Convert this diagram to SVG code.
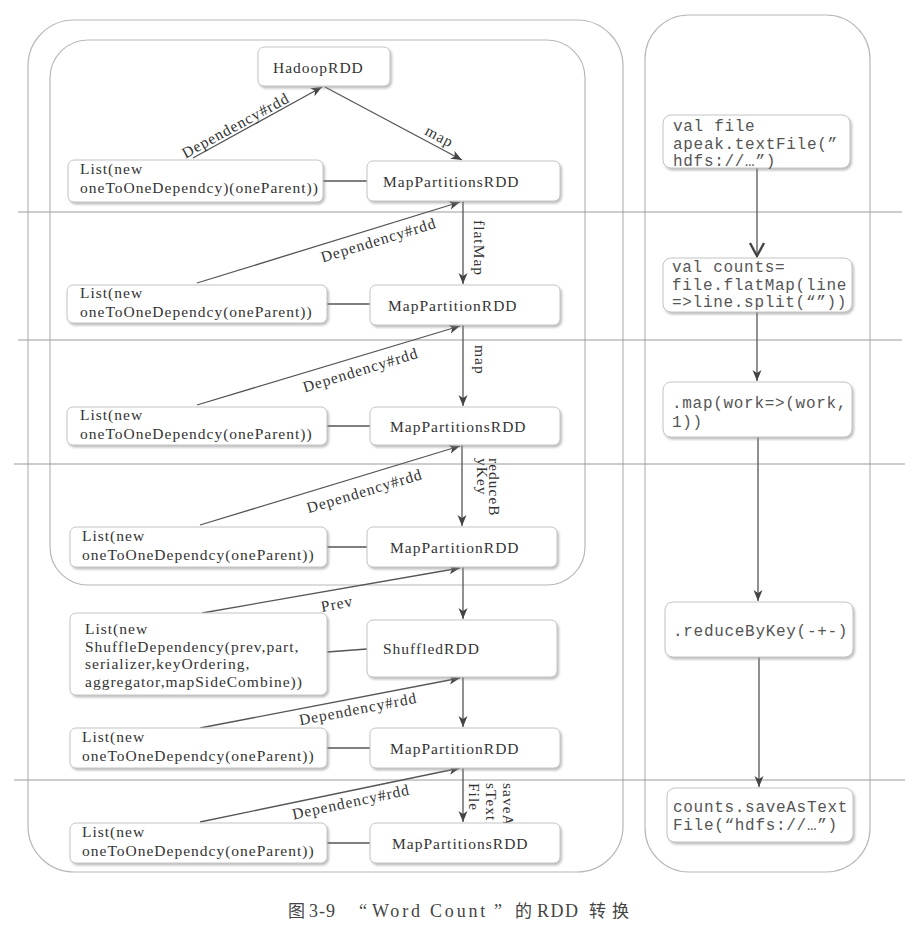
<svg xmlns="http://www.w3.org/2000/svg" width="924" height="938" viewBox="0 0 924 938">
<defs>
<filter id="sh" x="-10%" y="-20%" width="130%" height="150%">
<feDropShadow dx="1.5" dy="2" stdDeviation="1.2" flood-color="#888" flood-opacity="0.55"/>
</filter>
<marker id="ah" markerUnits="userSpaceOnUse" markerWidth="12" markerHeight="10" refX="11" refY="4.5" orient="auto">
<path d="M0,0 L11,4.5 L0,9 L3,4.5 z" fill="#444"/>
</marker>
<marker id="av" markerUnits="userSpaceOnUse" markerWidth="18" markerHeight="18" refX="14" refY="8" orient="auto">
<path d="M1,1 L14,8 L1,15" fill="none" stroke="#444" stroke-width="2.4"/>
</marker>
</defs>
<style>
.cont{fill:none;stroke:#b8b8b8;stroke-width:1.2}
.sep{stroke:#9a9a9a;stroke-width:1}
.box{fill:#fff;stroke:#c4c4c4;stroke-width:1;filter:url(#sh)}
.t{font-family:"Liberation Serif","Times New Roman",serif;font-size:15.5px;letter-spacing:1px;fill:#333}
.m{font-family:"Liberation Mono","Courier New",monospace;font-size:16px;letter-spacing:0.7px;fill:#555}
.ln{stroke:#555;stroke-width:1.3;fill:none}
.ar{stroke:#555;stroke-width:1.3;fill:none;marker-end:url(#ah)}
.capl{font-family:"Liberation Serif","Times New Roman",serif;font-size:18px;fill:#444}
.capc{font-family:"Noto Sans CJK SC",sans-serif;font-size:17px;fill:#444}
</style>
<rect width="924" height="938" fill="#fff"/>

<g id="containers">
<rect class="cont" x="28" y="20" width="595" height="852" rx="46"/>
<rect class="cont" x="50" y="40" width="535" height="545" rx="38"/>
<rect class="cont" x="645" y="15" width="225" height="857" rx="44"/>
</g>

<g id="separators">
<line class="sep" x1="18" y1="212" x2="902" y2="212"/>
<line class="sep" x1="18" y1="340" x2="902" y2="340"/>
<line class="sep" x1="14" y1="464" x2="905" y2="464"/>
<line class="sep" x1="14" y1="780" x2="905" y2="780"/>
</g>

<g id="connectors">
<line class="ar" x1="193" y1="158" x2="322" y2="87"/>
<line class="ar" x1="325" y1="87" x2="462" y2="160"/>
<line class="ln" x1="323" y1="181" x2="367" y2="181"/>
<line class="ar" x1="197" y1="283" x2="460" y2="202"/>
<line class="ar" x1="463" y1="201" x2="463" y2="284"/>
<line class="ln" x1="327" y1="304" x2="370" y2="304"/>
<line class="ar" x1="197" y1="405" x2="460" y2="326"/>
<line class="ar" x1="463" y1="325" x2="463" y2="406"/>
<line class="ln" x1="327" y1="426" x2="370" y2="426"/>
<line class="ar" x1="200" y1="525" x2="460" y2="446"/>
<line class="ar" x1="462" y1="445" x2="462" y2="526"/>
<line class="ln" x1="327" y1="547" x2="367" y2="547"/>
<line class="ar" x1="202" y1="613" x2="460" y2="568"/>
<line class="ar" x1="463" y1="567" x2="463" y2="619"/>
<line class="ln" x1="327" y1="652" x2="367" y2="649"/>
<line class="ar" x1="200" y1="728" x2="460" y2="678"/>
<line class="ar" x1="463" y1="677" x2="463" y2="727"/>
<line class="ln" x1="327" y1="748" x2="370" y2="748"/>
<line class="ar" x1="200" y1="822" x2="460" y2="768"/>
<line class="ar" x1="463" y1="768" x2="463" y2="822"/>
<line class="ln" x1="327" y1="843" x2="370" y2="843"/>
<line class="ln" x1="757" y1="168" x2="757" y2="256" style="marker-end:url(#av)"/>
<line class="ar" x1="757" y1="312" x2="757" y2="381"/>
<line class="ar" x1="758" y1="437" x2="758" y2="601"/>
<line class="ar" x1="759" y1="657" x2="759" y2="787"/>
<text class="t" text-anchor="middle" transform="translate(238,130) rotate(-28.6)">Dependency#rdd</text>
<text class="t" text-anchor="middle" transform="translate(437,141) rotate(28)">map</text>
<text class="t" text-anchor="middle" transform="translate(380,245) rotate(-17)">Dependency#rdd</text>
<text class="t" transform="translate(474,220) rotate(90)">flatMap</text>
<text class="t" text-anchor="middle" transform="translate(362,375) rotate(-17)">Dependency#rdd</text>
<text class="t" transform="translate(475,345) rotate(90)">map</text>
<text class="t" text-anchor="middle" transform="translate(366,496) rotate(-16.7)">Dependency#rdd</text>
<text class="t" transform="translate(489,458) rotate(90)">reduceB</text>
<text class="t" transform="translate(477,458) rotate(90)">yKey</text>
<text class="t" text-anchor="middle" transform="translate(338,609) rotate(-10.7)">Prev</text>
<text class="t" text-anchor="middle" transform="translate(359,714) rotate(-10.9)">Dependency#rdd</text>
<text class="t" text-anchor="middle" transform="translate(352,807) rotate(-12.1)">Dependency#rdd</text>
<text class="t" transform="translate(503,783) rotate(90)">saveA</text>
<text class="t" transform="translate(486,783) rotate(90)">sText</text>
<text class="t" transform="translate(469,783) rotate(90)">File</text>
</g>

<g id="hadoopRDD">
<rect class="box" x="258" y="47" width="132" height="39" rx="6"/>
<text class="t" x="273" y="73">HadoopRDD</text>
</g>

<g id="list1">
<rect class="box" x="68" y="160" width="255" height="42" rx="6"/>
<text class="t" x="80" y="174">List(new</text>
<text class="t" x="80" y="193">oneToOneDependcy)(oneParent))</text>
</g>
<g id="rdd1">
<rect class="box" x="367" y="161" width="193" height="40" rx="6"/>
<text class="t" x="383" y="187">MapPartitionsRDD</text>
</g>

<g id="list2">
<rect class="box" x="67" y="285" width="260" height="38" rx="6"/>
<text class="t" x="80" y="298">List(new</text>
<text class="t" x="80" y="317">oneToOneDependcy(oneParent))</text>
</g>
<g id="rdd2">
<rect class="box" x="370" y="285" width="190" height="40" rx="6"/>
<text class="t" x="388" y="311">MapPartitionRDD</text>
</g>

<g id="list3">
<rect class="box" x="67" y="407" width="260" height="38" rx="6"/>
<text class="t" x="80" y="420">List(new</text>
<text class="t" x="80" y="439">oneToOneDependcy(oneParent))</text>
</g>
<g id="rdd3">
<rect class="box" x="370" y="407" width="190" height="38" rx="6"/>
<text class="t" x="390" y="432">MapPartitionsRDD</text>
</g>

<g id="list4">
<rect class="box" x="70" y="527" width="257" height="40" rx="6"/>
<text class="t" x="82" y="541">List(new</text>
<text class="t" x="82" y="560">oneToOneDependcy(oneParent))</text>
</g>
<g id="rdd4">
<rect class="box" x="367" y="527" width="190" height="40" rx="6"/>
<text class="t" x="390" y="553">MapPartitionRDD</text>
</g>

<g id="list5">
<rect class="box" x="70" y="613" width="257" height="82" rx="6"/>
<text class="t" x="85" y="634">List(new</text>
<text class="t" x="85" y="651.5">ShuffleDependency(prev,part,</text>
<text class="t" x="85" y="669">serializer,keyOrdering,</text>
<text class="t" x="85" y="686.5">aggregator,mapSideCombine))</text>
</g>
<g id="shuffledRDD">
<rect class="box" x="367" y="620" width="190" height="57" rx="6"/>
<text class="t" x="383" y="654">ShuffledRDD</text>
</g>

<g id="list6">
<rect class="box" x="70" y="728" width="257" height="40" rx="6"/>
<text class="t" x="82" y="742">List(new</text>
<text class="t" x="82" y="761">oneToOneDependcy(oneParent))</text>
</g>
<g id="rdd6">
<rect class="box" x="370" y="728" width="190" height="40" rx="6"/>
<text class="t" x="390" y="754">MapPartitionRDD</text>
</g>

<g id="list7">
<rect class="box" x="70" y="823" width="257" height="40" rx="6"/>
<text class="t" x="82" y="837">List(new</text>
<text class="t" x="82" y="856">oneToOneDependcy(oneParent))</text>
</g>
<g id="rdd7">
<rect class="box" x="370" y="823" width="190" height="40" rx="6"/>
<text class="t" x="392" y="849">MapPartitionsRDD</text>
</g>

<g id="code1">
<rect class="box" x="663" y="115" width="187" height="53" rx="8"/>
<text class="m" x="673" y="131">val file</text>
<text class="m" x="673" y="148.5">apeak.textFile(”</text>
<text class="m" x="673" y="166">hdfs://…”)</text>
</g>
<g id="code2">
<rect class="box" x="663" y="258" width="189" height="54" rx="8"/>
<text class="m" x="672" y="272">val counts=</text>
<text class="m" x="672" y="290">file.flatMap(line</text>
<text class="m" x="672" y="307">=&gt;line.split(“”))</text>
</g>
<g id="code3">
<rect class="box" x="663" y="382" width="189" height="55" rx="8"/>
<text class="m" x="672" y="408">.map(work=&gt;(work,</text>
<text class="m" x="672" y="427">1))</text>
</g>
<g id="code4">
<rect class="box" x="665" y="602" width="188" height="55" rx="8"/>
<text class="m" x="673" y="636">.reduceByKey(-+-)</text>
</g>
<g id="code5">
<rect class="box" x="667" y="788" width="186" height="54" rx="8"/>
<text class="m" x="673" y="812">counts.saveAsText</text>
<text class="m" x="673" y="830">File(“hdfs://…”)</text>
</g>

<g id="caption">
<text class="capc" x="288" y="917">图</text>
<text class="capl" x="309" y="917" letter-spacing="1">3-9</text>
<text class="capl" x="359" y="917">“</text>
<text class="capl" x="372" y="917" letter-spacing="2.8">Word Count</text>
<text class="capl" x="494" y="917">”</text>
<text class="capc" x="515" y="917">的</text>
<text class="capl" x="537" y="917" letter-spacing="1.5">RDD</text>
<text class="capc" x="589" y="917" letter-spacing="6">转换</text>
</g>
</svg>
